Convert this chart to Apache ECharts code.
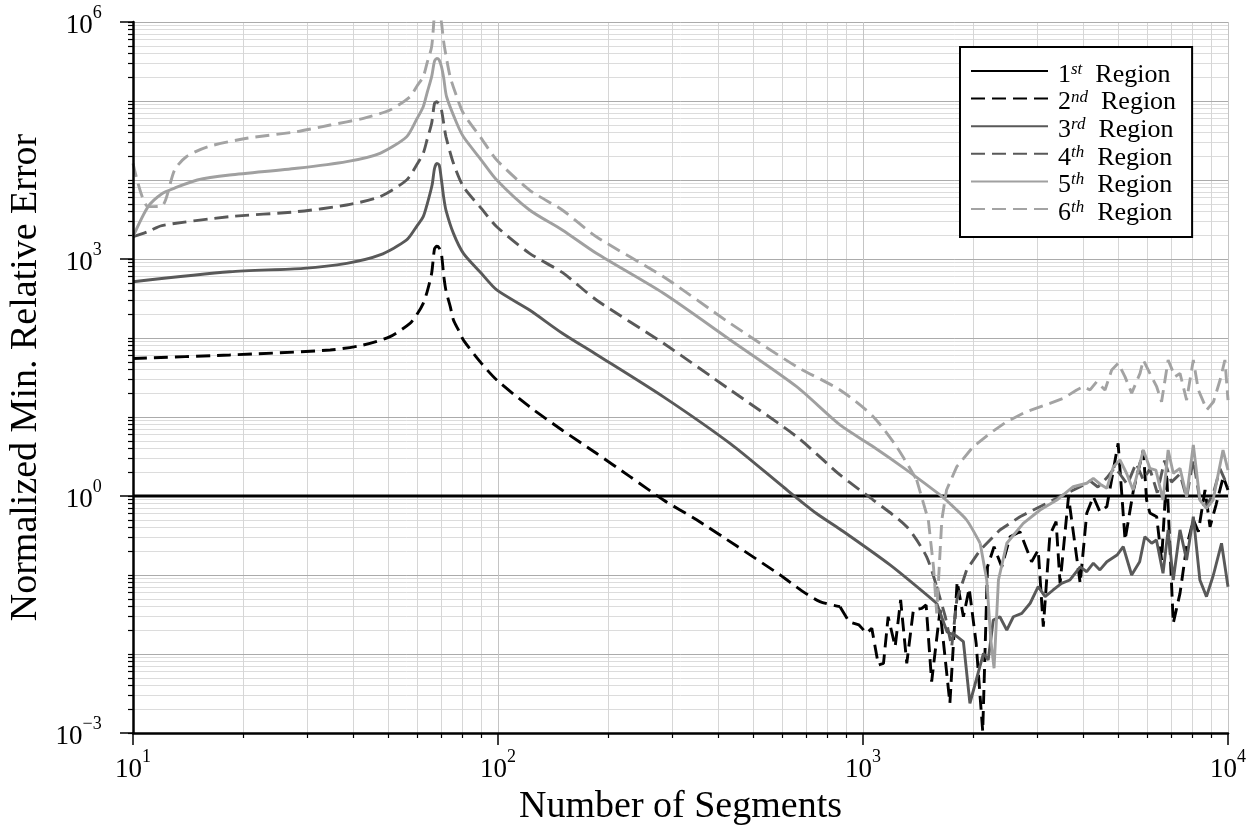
<!DOCTYPE html>
<html>
<head>
<meta charset="utf-8">
<script src="https://cdn.jsdelivr.net/npm/echarts@6/dist/echarts.min.js"></script>
<style>
  html, body { margin: 0; padding: 0; background: #fff; }
  #chart { width: 1249px; height: 827px; }
</style>
</head>
<body>
<div id="chart"></div>
<script>
// Series names and their ordinal superscripts
const regionNames = ['1st Region', '2nd Region', '3rd Region', '4th Region', '5th Region', '6th Region'];
const regionOrdinals = ['1', '2', '3', '4', '5', '6'];
const regionSuffixes = ['st', 'nd', 'rd', 'th', 'th', 'th'];

// Axis tick values
const xDecades = [10, 100, 1000, 10000];
const yLabelValues = [1e-3, 1, 1e3, 1e6];

// [number of segments, normalized min. relative error]
const region1 = [[10, 1], [10000, 1]];

const region2 = [[10,55],[18.4,61],[34.7,70.5],[42.7,81.5],[50.6,104],[57.4,153],[60,200],[62.4,275],[64,390],[65.8,660],[67,1350],[68,1450],[69,1380],[70,1150],[71,620],[72,400],[74,250],[75.5,169],[78,125],[80.4,94],[90,48],[99.2,29.4],[122,13.5],[150,6.8],[186,3.47],[230,1.76],[284,0.89],[350,0.5],[450,0.234],[593,0.1],[680,0.063],[762,0.046],[865,0.0397],[916,0.0256],[975,0.0233],[1023,0.0183],[1057,0.0211],[1102,0.00726],[1138,0.00762],[1172,0.0296],[1225,0.0124],[1268,0.0483],[1318,0.00762],[1374,0.0361],[1449,0.0378],[1489,0.0417],[1542,0.00447],[1626,0.0361],[1730,0.00238],[1811,0.0822],[1884,0.0296],[1954,0.0678],[2042,0.0136],[2128,0.00105],[2193,0.127],[2286,0.228],[2399,0.127],[2529,0.305],[2692,0.353],[2897,0.147],[3020,0.207],[3119,0.0222],[3251,0.321],[3381,0.473],[3467,0.0785],[3656,0.98],[3936,0.0785],[4102,0.604],[4276,0.98],[4457,0.632],[4656,0.733],[5000,4.65],[5224,0.277],[5508,1.19],[5861,3.82],[5984,0.889],[6109,0.61],[6377,0.547],[6577,0.155],[6792,1.94],[7080,0.0245],[7387,0.0586],[7702,0.228],[8035,0.5],[8294,0.353],[8650,1.19],[8927,0.408],[9270,0.769],[9706,1.75],[10000,1.19]];

const region3 = [[10,516],[18.4,690],[29.3,762],[38.5,881],[47.5,1125],[56.2,1742],[60,2630],[62.4,3436],[64,5000],[66,8700],[67,14000],[68,16200],[69,15500],[70,10000],[71,6000],[72,4170],[75.5,2113],[80.4,1180],[90,659],[99.2,406],[122,226],[150,115],[186,62],[284,18],[433,4.6],[605,1.3],[746,0.6],[865,0.38],[1186,0.134],[1592,0.0438],[1700,0.019],[1800,0.017],[1884,0.0143],[1963,0.00238],[2138,0.0102],[2203,0.0084],[2275,0.0269],[2371,0.0296],[2477,0.0201],[2582,0.0296],[2723,0.0327],[2871,0.0439],[3020,0.0711],[3155,0.0532],[3319,0.0646],[3499,0.0785],[3690,0.0865],[3936,0.127],[4102,0.11],[4276,0.141],[4457,0.116],[4656,0.147],[4966,0.179],[5164,0.228],[5445,0.1],[5728,0.147],[5916,0.305],[6180,0.252],[6368,0.277],[6637,0.105],[6855,0.372],[7080,0.0865],[7387,0.372],[7700,0.155],[8035,0.547],[8375,0.0865],[8730,0.0532],[9120,0.1],[9600,0.252],[10000,0.0711]];

const region4 = [[10,1914],[11,2220],[12,2650],[18.4,3436],[28.1,3972],[38.5,4831],[47.5,6152],[56.2,10000],[60,15800],[62.4,21780],[64,33000],[65.8,52240],[67,93500],[68,97950],[69,88900],[70,76900],[71,52000],[72,35500],[75.5,16255],[80.4,8222],[90,4365],[99.2,2564],[122,1180],[150,676],[186,303],[284,85.7],[433,22],[658,5.64],[865,1.85],[1067,0.889],[1318,0.408],[1493,0.171],[1592,0.0711],[1680,0.03],[1750,0.0124],[1807,0.0483],[1923,0.116],[2094,0.207],[2371,0.372],[2692,0.547],[3184,0.807],[3614,1.08],[3936,1.31],[4188,1.55],[4400,1.3],[4656,1.7],[4900,2.3],[5058,1.9],[5300,1.4],[5600,2.6],[5861,1.6],[6110,2.2],[6400,1.1],[6700,2.8],[7000,1.5],[7387,1.9],[7700,0.95],[8035,2.9],[8400,0.8],[8750,0.75],[9126,1.1],[9512,2.2],[10000,1.3]];

const region5 = [[10,1914],[11,4600],[12,6700],[13,7900],[15,10000],[18.4,11560],[28.1,14060],[38.5,17060],[47.5,21780],[56.2,35320],[60,60000],[62.4,84720],[64,129000],[65.8,203200],[67,320000],[68,346700],[69,330400],[70,271600],[71,195000],[72.3,113200],[77.1,52240],[80.4,35320],[90,17900],[99.2,10000],[122,4169],[150,2330],[186,1180],[284,368],[433,94.4],[658,24.2],[865,7.93],[1067,4.21],[1318,2.13],[1626,1.03],[1766,0.733],[1923,0.497],[2094,0.252],[2183,0.0865],[2240,0.015],[2286,0.0066],[2350,0.0865],[2477,0.252],[2748,0.451],[3055,0.665],[3396,0.889],[3767,1.31],[4102,1.45],[4276,1.67],[4466,1.41],[4656,1.25],[4853,2.35],[5058,2.86],[5272,1.94],[5495,1.19],[5861,3.82],[6109,2.24],[6345,2.13],[6637,0.889],[6855,3.82],[7080,1.94],[7387,2.24],[7702,0.98],[8035,4.43],[8375,0.889],[8730,0.698],[9100,0.889],[9690,3.82],[10000,2.13]];

const region6 = [[10,16255],[11,4600],[12,4700],[13,13400],[14,19700],[16,26300],[20.5,33730],[28.1,40930],[34.7,49660],[42.8,60390],[50.6,76910],[57.4,113200],[60,155000],[62.4,203200],[64,309000],[65.8,487500],[67,1300000],[68,2200000],[69,1800000],[70,1000000],[71,560000],[72,380000],[74,200000],[77.1,113200],[80.4,69820],[90,33700],[99.2,17910],[122,7464],[150,4170],[186,1914],[284,597],[433,153],[658,43.4],[865,22],[1067,10.1],[1236,4.21],[1403,1.6],[1510,0.497],[1560,0.127],[1592,0.0327],[1644,0.497],[1694,1.19],[1807,2.35],[2004,4.21],[2228,6.22],[2477,8.73],[2805,11.7],[3251,14.9],[3540,17.2],[3850,22],[4016,24.2],[4188,22],[4367,28],[4603,22],[4801,39.4],[5002,47.9],[5220,32.4],[5446,20],[5741,35.7],[5861,52.7],[6110,35.7],[6377,24.2],[6577,15.6],[6855,52.7],[7157,32.4],[7387,35.7],[7702,16.4],[8035,52.7],[8294,22],[8750,12.3],[9126,15.6],[9512,29.4],[9808,52.7],[10000,16.4]];

const regionData = [region1, region2, region3, region4, region5, region6];
const regionColors = ['#000000', '#000000', '#595959', '#595959', '#a0a0a0', '#a3a3a3'];
const regionDashed = [false, true, false, true, false, true];
// Segment count after which each curve turns jagged (drawn without smoothing)
const jaggedFrom = [10000, 865, 1592, 1592, 2094, 1403];

// Log-decade helpers for tick and grid positions
function multiples(eLo, eHi, mults) {
  const out = [];
  for (let e = eLo; e <= eHi; e++) {
    for (const m of mults) out.push(Number((m * Math.pow(10, e)).toPrecision(6)));
  }
  return out;
}
const xMinor = multiples(1, 3, [2, 3, 4, 5, 6, 7, 8, 9]);
const yAll = multiples(-3, 5, [1, 2, 3, 4, 5, 6, 7, 8, 9]).concat([1e6]);
const yDecades = multiples(-3, 6, [1]);

const FONT = '"Liberation Serif", "Times New Roman", serif';

// "10" with a raised exponent; the trailing strut token sets the line height
function powLabel(v) {
  const e = Math.round(Math.log10(v));
  return '{b|10}{s|' + (e < 0 ? '\u2212' + (-e) : String(e)) + '}{h| }';
}
const powRich = {
  b: { fontFamily: FONT, fontSize: 27, color: '#000', lineHeight: 28, verticalAlign: 'bottom' },
  s: { fontFamily: FONT, fontSize: 18, color: '#000', lineHeight: 28, verticalAlign: 'top' },
  h: { fontSize: 1, lineHeight: 35, verticalAlign: 'middle' }
};

const hidden = { show: false };

const xAxes = [
  {
    type: 'log', logBase: 10, min: 10, max: 10000, position: 'bottom', z: 3,
    axisLine: { show: true, onZero: false, lineStyle: { color: '#000', width: 2.5 } },
    axisTick: { show: true, inside: false, length: 12, customValues: xDecades, lineStyle: { color: '#000', width: 1.5 } },
    axisLabel: { show: true, customValues: xDecades, margin: 15, fontFamily: FONT, fontSize: 27, color: '#000', formatter: powLabel, rich: powRich },
    splitLine: hidden,
    name: 'Number of Segments', nameLocation: 'middle', nameGap: 49,
    nameTextStyle: { fontFamily: FONT, fontSize: 38, color: '#000' }
  },
  {
    type: 'log', logBase: 10, min: 10, max: 10000, position: 'bottom', z: 0,
    axisLine: hidden,
    axisTick: { show: true, inside: false, length: 5, customValues: xMinor, lineStyle: { color: '#000', width: 1.2 } },
    axisLabel: hidden,
    splitLine: { show: true, lineStyle: { color: '#d6d6d6', width: 1 } }
  },
  {
    type: 'log', logBase: 10, min: 10, max: 10000, position: 'bottom', z: 1,
    axisLine: hidden,
    axisTick: { show: false, customValues: xDecades },
    axisLabel: hidden,
    splitLine: { show: true, lineStyle: { color: '#c4c4c4', width: 1 } }
  }
];

const yAxes = [
  {
    type: 'log', logBase: 10, min: 1e-3, max: 1e6, position: 'left', z: 3,
    axisLine: { show: true, onZero: false, lineStyle: { color: '#000', width: 2.5 } },
    axisTick: { show: true, inside: false, length: 13, customValues: yLabelValues, lineStyle: { color: '#000', width: 1.5 } },
    axisLabel: { show: true, customValues: yLabelValues, margin: 31, fontFamily: FONT, fontSize: 27, color: '#000', formatter: powLabel, rich: powRich },
    splitLine: hidden,
    name: 'Normalized Min. Relative Error', nameLocation: 'middle', nameGap: 85,
    nameTextStyle: { fontFamily: FONT, fontSize: 38, color: '#000' }
  },
  {
    type: 'log', logBase: 10, min: 1e-3, max: 1e6, position: 'left', z: 0,
    axisLine: hidden,
    axisTick: { show: true, inside: false, length: 5, customValues: yAll, lineStyle: { color: '#000', width: 1.2 } },
    axisLabel: hidden,
    splitLine: { show: true, lineStyle: { color: '#dcdcdc', width: 1 } }
  },
  {
    type: 'log', logBase: 10, min: 1e-3, max: 1e6, position: 'left', z: 1,
    axisLine: hidden,
    axisTick: { show: false, customValues: yDecades },
    axisLabel: hidden,
    splitLine: { show: true, lineStyle: { color: '#ababab', width: 1 } }
  }
];

// Each region: a smoothed part and a jagged part sharing one legend entry
const series = [];
regionNames.forEach((name, i) => {
  const lineStyle = {
    color: regionColors[i],
    width: 2.9,
    type: regionDashed[i] ? [14, 7] : 'solid',
    cap: 'butt'
  };
  const parts = [
    { data: regionData[i].filter(p => p[0] <= jaggedFrom[i]), smooth: 0.25 },
    { data: regionData[i].filter(p => p[0] >= jaggedFrom[i]), smooth: false }
  ];
  parts.forEach(part => {
    if (part.data.length < 2) return;
    series.push({
      name: name,
      type: 'line',
      xAxisIndex: 0,
      yAxisIndex: 0,
      data: part.data,
      smooth: part.smooth,
      symbol: 'none',
      showSymbol: false,
      clip: true,
      z: 2 + i * 0.01,
      lineStyle: lineStyle,
      itemStyle: { color: regionColors[i] },
      emphasis: { disabled: true }
    });
  });
});

const option = {
  animation: false,
  backgroundColor: '#fff',
  textStyle: { fontFamily: FONT },
  grid: { left: 133, right: 21, top: 22, bottom: 94, containLabel: false, outerBoundsMode: 'none' },
  xAxis: xAxes,
  yAxis: yAxes,
  legend: {
    orient: 'vertical',
    left: 960,
    top: 47,
    itemWidth: 77,
    itemHeight: 14,
    itemGap: -6.4,
    padding: [7, 16, 11, 10],
    backgroundColor: '#fff',
    borderColor: '#000',
    borderWidth: 2,
    borderRadius: 0,
    selectedMode: false,
    itemStyle: { opacity: 0 },
    data: regionNames,
    formatter: function (name) {
      const i = regionNames.indexOf(name);
      return '{n|' + regionOrdinals[i] + '}{s|' + regionSuffixes[i] + '}{t|  Region}';
    },
    textStyle: {
      color: '#000',
      rich: {
        n: { fontFamily: FONT, fontSize: 26, color: '#000', lineHeight: 20, padding: [8, 0, 0, 5] },
        s: { fontFamily: FONT, fontSize: 17, fontStyle: 'italic', color: '#000', lineHeight: 14, verticalAlign: 'top' },
        t: { fontFamily: FONT, fontSize: 26, color: '#000', lineHeight: 20, padding: [8, 0, 0, 0] }
      }
    }
  },
  series: series
};

const chart = echarts.init(document.getElementById('chart'));
chart.setOption(option);
</script>
</body>
</html>
